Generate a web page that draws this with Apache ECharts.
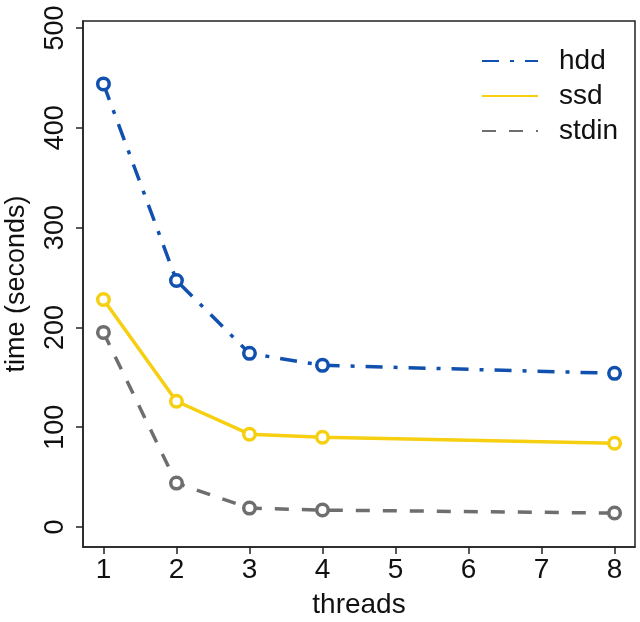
<!DOCTYPE html>
<html>
<head>
<meta charset="utf-8">
<script src="https://cdn.jsdelivr.net/npm/echarts@6/dist/echarts.min.js"></script>
<style>html,body{margin:0;padding:0;background:#fff}#c{width:640px;height:622px}</style>
</head>
<body>
<div id="c"></div>
<script>
const threads = [1, 2, 3, 4, 8];
const hdd = [444, 247, 174, 162, 154];
const ssd = [228, 126, 93, 90, 84];
const stdin = [195, 44, 19, 17, 14];
const xTicks = [1, 2, 3, 4, 5, 6, 7, 8];
const yTicks = [0, 100, 200, 300, 400, 500];

const FONT = 'Liberation Sans, Arial, Helvetica, sans-serif';
const zip = v => threads.map((t, i) => [t, v[i]]);

function mk(name, vals, color, type) {
  return {
    name, type: 'line', data: zip(vals),
    symbol: 'circle', symbolSize: 11.5,
    itemStyle: { color: '#fff', borderColor: color, borderWidth: 3.5 },
    lineStyle: { color: color, width: 3.5, type: type },
    emphasis: { disabled: true },
    z: 3
  };
}

const chart = echarts.init(document.getElementById('c'), null, { renderer: 'canvas' });
chart.setOption({
  animation: false,
  backgroundColor: '#fff',
  grid: { left: 83, top: 21, right: 5, bottom: 75, outerBoundsMode: 'none', containLabel: false, show: true, borderColor: '#222', borderWidth: 1.5, backgroundColor: 'transparent' },
  xAxis: {
    type: 'value', min: 0.72, max: 8.28,
    name: 'threads', nameLocation: 'middle', nameGap: 44,
    nameTextStyle: { fontSize: 28, fontFamily: FONT, color: '#111' },
    axisLine: { show: true, onZero: false, lineStyle: { color: '#222', width: 1.5 } },
    axisTick: { show: true, inside: false, length: 7, lineStyle: { color: '#222', width: 1.5 }, customValues: xTicks },
    axisLabel: { fontSize: 28, fontFamily: FONT, color: '#111', margin: 9, customValues: xTicks },
    splitLine: { show: false }
  },
  yAxis: {
    type: 'value', min: -20, max: 507,
    name: 'time (seconds)', nameLocation: 'middle', nameGap: 53,
    nameTextStyle: { fontSize: 27, fontFamily: FONT, color: '#111' },
    axisLine: { show: true, onZero: false, lineStyle: { color: '#222', width: 1.5 } },
    axisTick: { show: true, inside: false, length: 7, lineStyle: { color: '#222', width: 1.5 }, customValues: yTicks },
    axisLabel: { fontSize: 27, fontFamily: FONT, color: '#111', margin: 14, rotate: 90, customValues: yTicks },
    splitLine: { show: false }
  },
  legend: {
    orient: 'vertical', left: 476, top: 42,
    itemWidth: 56, itemHeight: 14, itemGap: 7,
    itemStyle: { opacity: 0 },
    textStyle: { fontSize: 28, fontFamily: FONT, color: '#111', lineHeight: 28, padding: [0, 0, 0, 16] },
    data: ['hdd', 'ssd', 'stdin']
  },
  series: [
    mk('hdd', hdd, '#1150AE', [17, 11, 4, 11]),
    mk('ssd', ssd, '#F5CF10', 'solid'),
    mk('stdin', stdin, '#6E6E6E', [14, 13])
  ]
});
</script>
</body>
</html>
